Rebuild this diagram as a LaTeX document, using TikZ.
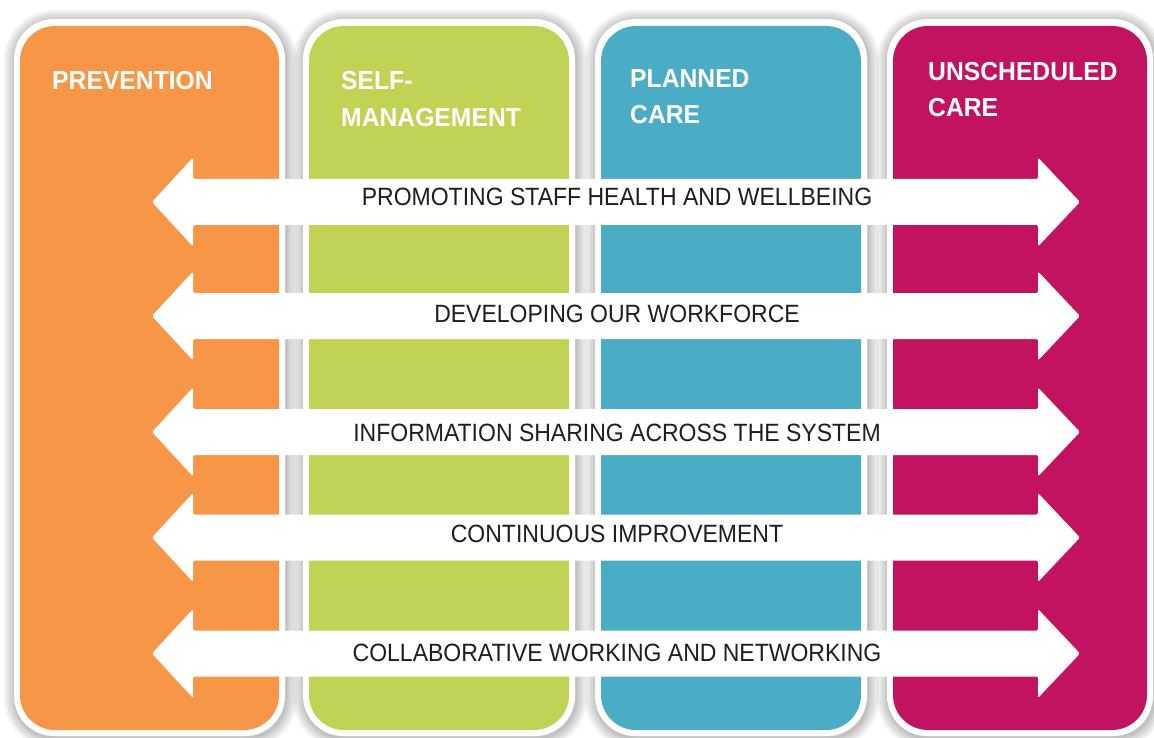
\documentclass[tikz,border=0pt]{standalone}
\usepackage{fontspec}
\setmainfont{Liberation Sans}
\newfontfamily\headfont[FakeStretch=0.95]{Liberation Sans}
\newfontfamily\bodyfont[FakeStretch=0.92]{Liberation Sans}
\definecolor{cOrange}{HTML}{F79646}
\definecolor{cGreen}{HTML}{C0D354}
\definecolor{cBlue}{HTML}{4BACC6}
\definecolor{cMagenta}{HTML}{C1135F}
\definecolor{txtcol}{HTML}{1E1E1E}
\tikzset{
  shadowline/.style={draw=black, opacity=0.05, rounded corners=40pt},
  outerbox/.style={fill=white, rounded corners=40pt},
  innerbox/.style={rounded corners=35pt},
  headtext/.style={font=\headfont\bfseries\fontsize{26}{30}\selectfont, text=white, inner sep=0pt, anchor=base west},
  arrowtext/.style={font=\bodyfont\fontsize{25}{29}\selectfont, text=txtcol, inner sep=0pt, anchor=base},
  arrowshape/.style={fill=white, rounded corners=1.5pt}
}
\begin{document}
\begin{tikzpicture}[x=1pt,y=-1pt]
\useasboundingbox (0,0) rectangle (1154,738);
\fill[white] (0,0) rectangle (1154,738);
% column shadows
\foreach \l/\r in {14/285, 303/575, 595/867, 887/1153}{
  \foreach \w in {22,17,12,7,3}{
    \draw[shadowline, line width=\w pt] (\l+1,21) rectangle (\r+1,738);
  }
}
% columns: white border and coloured fill
\foreach \l/\r/\c in {14/285/cOrange, 303/575/cGreen, 595/867/cBlue, 887/1153/cMagenta}{
  \fill[outerbox] (\l,19) rectangle (\r,736);
  \fill[innerbox, fill=\c] (\l+6,26) rectangle (\r-6,730);
}
% headings
\node[headtext] (h1) at (52,90) {PREVENTION};
\node[headtext] (h2a) at (341,90) {SELF-};
\node[headtext] (h2b) at (341,127) {MANAGEMENT};
\node[headtext] (h3a) at (630,88) {PLANNED};
\node[headtext] (h3b) at (630,124) {CARE};
\node[headtext] (h4a) at (928,81) {UNSCHEDULED};
\node[headtext] (h4b) at (928,117) {CARE};
% double arrows
\foreach \c/\b/\t/\n in {202/206/{PROMOTING STAFF HEALTH AND WELLBEING}/a1,
                         316/322/{DEVELOPING OUR WORKFORCE}/a2,
                         432/441/{INFORMATION SHARING ACROSS THE SYSTEM}/a3,
                         537.5/542/{CONTINUOUS IMPROVEMENT}/a4,
                         653.5/661/{COLLABORATIVE WORKING AND NETWORKING}/a5}{
  \fill[arrowshape] (152,\c) -- (193,\c-44.5) -- (193,\c-23) -- (1038,\c-23)
     -- (1038,\c-44.5) -- (1080,\c) -- (1038,\c+44.5) -- (1038,\c+23)
     -- (193,\c+23) -- (193,\c+44.5) -- cycle;
  \node[arrowtext] (\n) at (617,\b) {\t};
}
\end{tikzpicture}
\end{document}
